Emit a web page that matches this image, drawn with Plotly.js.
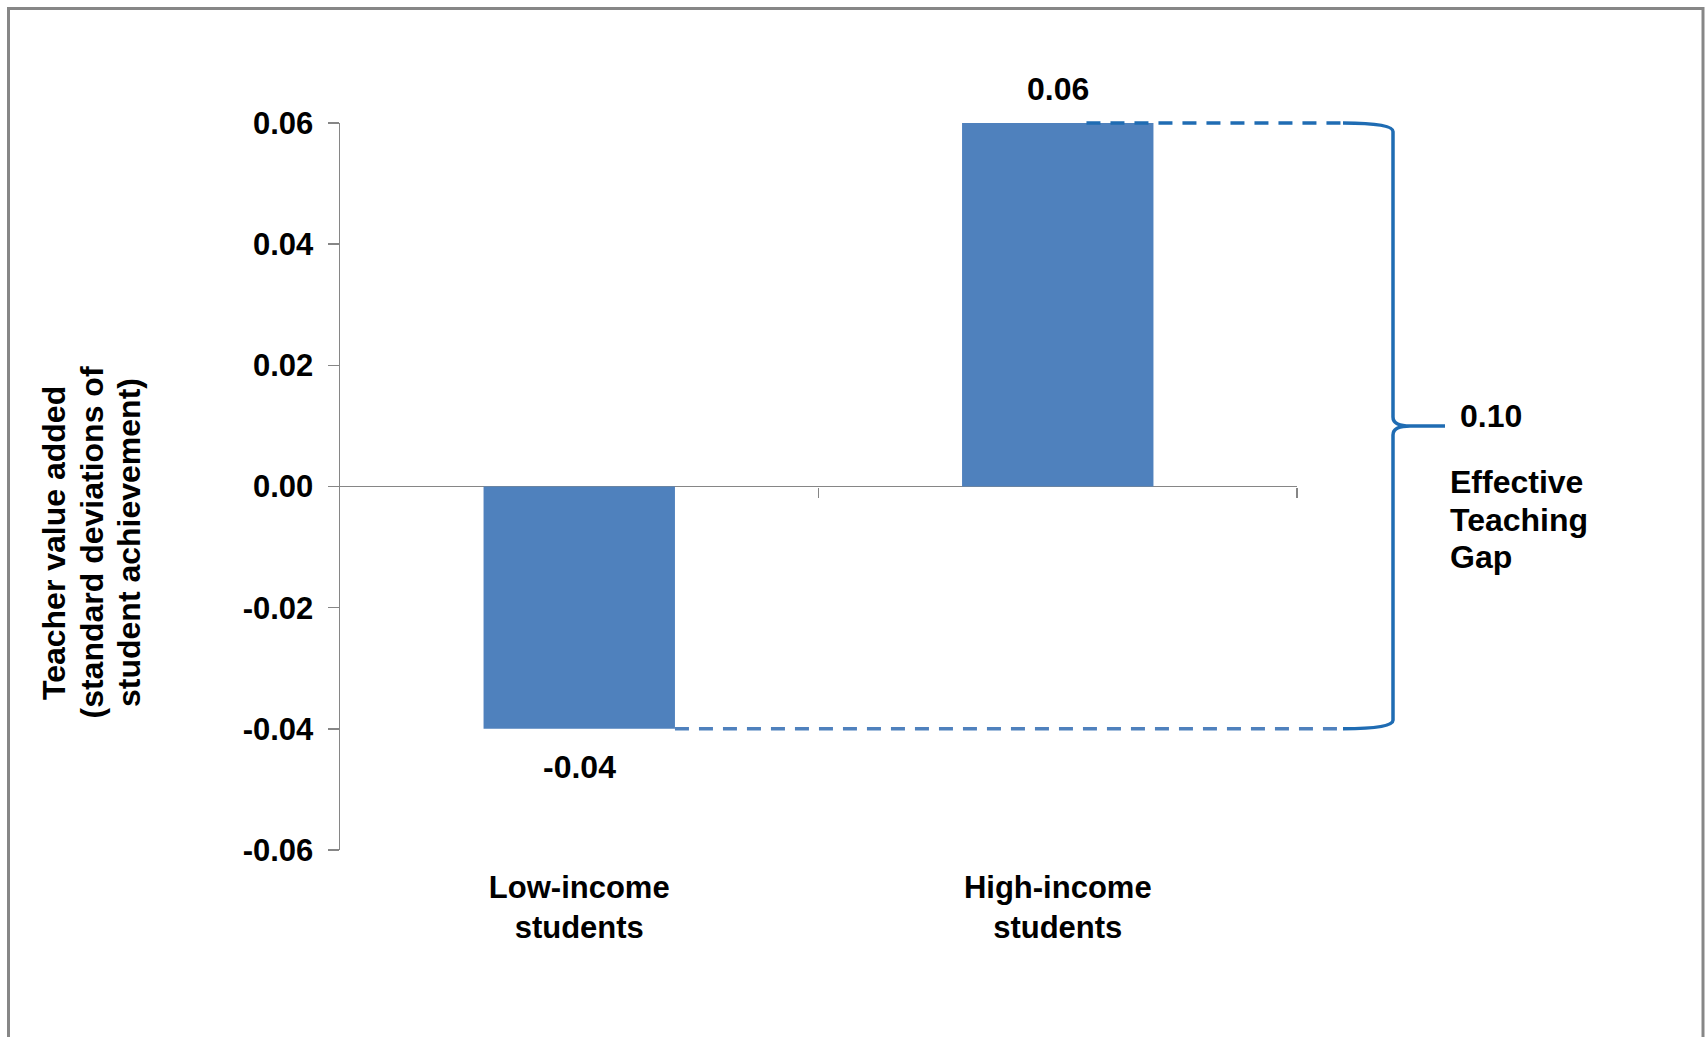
<!DOCTYPE html>
<html>
<head>
<meta charset="utf-8">
<script src="https://cdn.plot.ly/plotly-3.0.1.min.js"></script>
<style>
  html, body { margin: 0; padding: 0; background: #ffffff; }
  #chart { width: 1705px; height: 1037px; }
</style>
</head>
<body>
<div id="chart"></div>
<script>
// ---- chart data ----
const categories = ['Low-income<br>students', 'High-income<br>students'];
const valueAdded = [-0.04, 0.06];
const yTickValues = [-0.06, -0.04, -0.02, 0.00, 0.02, 0.04, 0.06];
const yTitleLines = ['Teacher value added', '(standard deviations of', 'student achievement)'];
const gapTitleLines = ['Effective', 'Teaching', 'Gap'];

// ---- styling ----
const FONT = 'Liberation Sans, Arial, Helvetica, sans-serif';
const BAR_BLUE = '#4F81BD';
const BRACE_BLUE = '#1F6CB3';
const AXIS_GREY = '#868686';
const W = 1705, H = 1037;
const M = { l: 340, r: 408, t: 123, b: 187 };
const plotW = W - M.l - M.r;
const plotH = H - M.t - M.b;
const X_RANGE = [-0.5, 1.5];
const Y_RANGE = [-0.06, 0.06];
const BAR_WIDTH = 0.4;
const TEXT_SIZE = 32;
const LINE_GAP = 37.5;   // px between stacked text lines

// pixel / data helpers for paper-referenced decorations
// (paper refs keep strokes on the plot edge from being clipped)
const pxToPaperX = px => (px - M.l) / plotW;
const pxToPaperY = py => 1 - (py - M.t) / plotH;
const dataToPaperX = x => (x - X_RANGE[0]) / (X_RANGE[1] - X_RANGE[0]);
const valueToPaperY = v => (v - Y_RANGE[0]) / (Y_RANGE[1] - Y_RANGE[0]);

const lowVal = valueAdded[0];
const highVal = valueAdded[1];
const gap = highVal - lowVal;
const midVal = (highVal + lowVal) / 2;

// brace geometry in paper units
const bx0 = pxToPaperX(1343);   // where the dashed guides meet the brace
const bxV = pxToPaperX(1393);   // vertical stroke
const bxC = pxToPaperX(1410);   // tip curve
const bxT = pxToPaperX(1445);   // tip end
const yHi = valueToPaperY(highVal);
const yLo = valueToPaperY(lowVal);
const yMid = valueToPaperY(midVal);
const cornerDy = 8.5 / plotH;
const tipDy = 9 / plotH;

const bracePath = [
  `M ${bx0},${yHi}`,
  `Q ${bxV},${yHi} ${bxV},${yHi - cornerDy}`,
  `L ${bxV},${yMid + tipDy}`,
  `Q ${bxV},${yMid} ${bxC},${yMid}`,
  `L ${bxT},${yMid}`,
  `M ${bxC},${yMid}`,
  `Q ${bxV},${yMid} ${bxV},${yMid - tipDy}`,
  `L ${bxV},${yLo + cornerDy}`,
  `Q ${bxV},${yLo} ${bx0},${yLo}`
].join(' ');

// outer frame (left, top and right edges; bottom runs off the page)
const fx0 = pxToPaperX(8.5), fx1 = pxToPaperX(1703);
const fyTop = pxToPaperY(8.5), fyBot = pxToPaperY(1060);
const framePath = `M ${fx0},${fyBot} L ${fx0},${fyTop} L ${fx1},${fyTop} L ${fx1},${fyBot}`;

const traces = [
  {
    type: 'bar',
    x: categories,
    y: valueAdded,
    width: BAR_WIDTH,
    marker: { color: BAR_BLUE, line: { width: 0 } },
    hoverinfo: 'skip',
    showlegend: false
  },
  {
    // carrier for the category axis drawn through zero
    type: 'scatter',
    x: [], y: [],
    xaxis: 'x2', yaxis: 'y',
    hoverinfo: 'skip',
    showlegend: false
  }
];

const annotations = [
  // value labels
  {
    x: categories[1], y: highVal, xref: 'x', yref: 'y',
    text: highVal.toFixed(2), showarrow: false,
    xanchor: 'center', yanchor: 'middle', yshift: 34
  },
  {
    x: categories[0], y: lowVal, xref: 'x', yref: 'y',
    text: lowVal.toFixed(2), showarrow: false,
    xanchor: 'center', yanchor: 'middle', yshift: -38
  },
  // gap value at the brace tip
  {
    x: pxToPaperX(1458), y: midVal, xref: 'paper', yref: 'y',
    text: gap.toFixed(2), showarrow: false,
    xanchor: 'left', yanchor: 'middle', yshift: 10
  }
];

// gap caption, one line per annotation
gapTitleLines.forEach((line, i) => {
  annotations.push({
    x: pxToPaperX(1448), y: pxToPaperY(482 + i * LINE_GAP),
    xref: 'paper', yref: 'paper',
    text: line, showarrow: false, align: 'left',
    xanchor: 'left', yanchor: 'middle'
  });
});

// value axis title, rotated, one line per annotation
yTitleLines.forEach((line, i) => {
  annotations.push({
    x: pxToPaperX(54 + i * LINE_GAP), y: pxToPaperY(543),
    xref: 'paper', yref: 'paper',
    text: line, showarrow: false, textangle: -90,
    xanchor: 'center', yanchor: 'middle', align: 'center'
  });
});

const dashGuide = { color: BRACE_BLUE, width: 3.5, dash: '14px,10px' };

const shapes = [
  {
    type: 'line', xref: 'paper', yref: 'paper',
    x0: dataToPaperX(1 + 0.06), x1: bx0, y0: yHi, y1: yHi,
    line: dashGuide
  },
  {
    type: 'line', xref: 'paper', yref: 'paper',
    x0: dataToPaperX(0 + BAR_WIDTH / 2), x1: bx0, y0: yLo, y1: yLo,
    line: Object.assign({}, dashGuide, { color: BAR_BLUE })
  },
  {
    type: 'path', xref: 'paper', yref: 'paper', path: bracePath,
    line: { color: BRACE_BLUE, width: 3.5 }
  },
  {
    type: 'path', xref: 'paper', yref: 'paper', path: framePath,
    line: { color: '#878787', width: 3 }
  }
];

const layout = {
  width: W,
  height: H,
  margin: { l: M.l, r: M.r, t: M.t, b: M.b, pad: 0 },
  paper_bgcolor: '#ffffff',
  plot_bgcolor: '#ffffff',
  font: { family: FONT, size: TEXT_SIZE, color: '#000000', weight: 700 },
  showlegend: false,
  bargap: 0.6,
  xaxis: {
    type: 'category',
    range: X_RANGE,
    showline: false,
    showgrid: false,
    zeroline: false,
    ticks: '',
    tickfont: { size: 31 },
    ticklabelstandoff: 16,
    fixedrange: true
  },
  xaxis2: {
    overlaying: 'x',
    anchor: 'free',
    position: 0.5,
    range: X_RANGE,
    tickvals: [0.5, 1.5],
    ticks: 'outside',
    ticklen: 10,
    tickwidth: 1.5,
    tickcolor: AXIS_GREY,
    showticklabels: false,
    showline: false,
    showgrid: false,
    zeroline: false,
    fixedrange: true
  },
  yaxis: {
    range: Y_RANGE,
    tickvals: yTickValues,
    ticktext: yTickValues.map(v => v.toFixed(2)),
    ticks: 'outside',
    ticklen: 11,
    tickwidth: 1.5,
    tickcolor: AXIS_GREY,
    showline: true,
    linecolor: AXIS_GREY,
    linewidth: 1.5,
    showgrid: false,
    zeroline: true,
    zerolinecolor: AXIS_GREY,
    zerolinewidth: 1.5,
    tickfont: { size: 31 },
    ticklabelstandoff: 8,
    fixedrange: true
  },
  annotations: annotations,
  shapes: shapes
};

Plotly.newPlot('chart', traces, layout, { staticPlot: true, displayModeBar: false });
</script>
</body>
</html>
